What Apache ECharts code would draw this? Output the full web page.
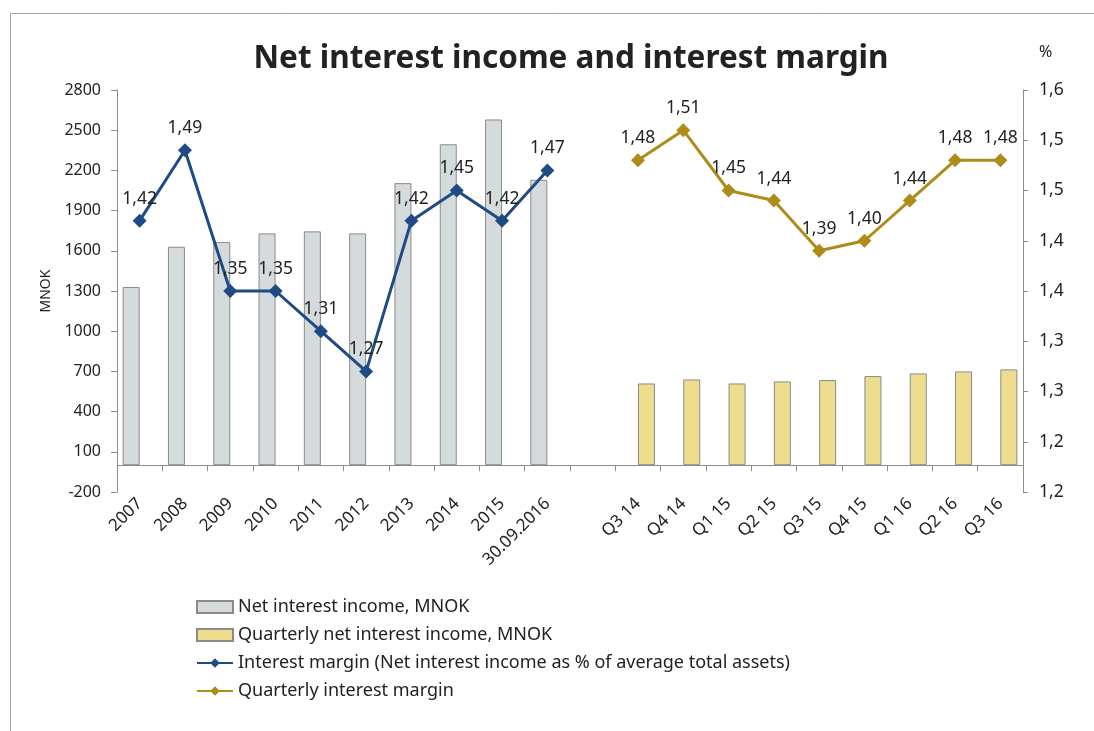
<!DOCTYPE html>
<html>
<head>
<meta charset="utf-8">
<title>Net interest income and interest margin</title>
<script src="https://cdn.jsdelivr.net/npm/echarts@6/dist/echarts.min.js"></script>
<style>
  html, body { margin: 0; padding: 0; background: #ffffff; }
  #chart { width: 1094px; height: 731px; }
</style>
</head>
<body>
<div id="chart"></div>
<script>
// Annual figures, an empty spacer slot, then the quarterly figures
const categories = ['2007', '2008', '2009', '2010', '2011', '2012', '2013', '2014', '2015', '30.09.2016',
  '', 'Q3 14', 'Q4 14', 'Q1 15', 'Q2 15', 'Q3 15', 'Q4 15', 'Q1 16', 'Q2 16', 'Q3 16'];

// Net interest income per year, MNOK
const annualIncome = [1330, 1630, 1665, 1730, 1745, 1730, 2105, 2395, 2580, 2130,
  null, null, null, null, null, null, null, null, null, null];

// Net interest income per quarter, MNOK
const quarterlyIncome = [null, null, null, null, null, null, null, null, null, null,
  null, 610, 640, 610, 625, 635, 665, 685, 700, 715];

// Interest margin, % of average total assets
const annualMargin = [1.42, 1.49, 1.35, 1.35, 1.31, 1.27, 1.42, 1.45, 1.42, 1.47,
  null, null, null, null, null, null, null, null, null, null];

// Quarterly interest margin, %
const quarterlyMargin = [null, null, null, null, null, null, null, null, null, null,
  null, 1.48, 1.51, 1.45, 1.44, 1.39, 1.40, 1.44, 1.48, 1.48];

const FONT = '"Noto Sans", "DejaVu Sans", sans-serif';
const TEXT = '#222222';
const AXIS = '#8c8c8c';

// Norwegian decimal comma, half-up rounding
const comma = (v, d) => (Math.round(v * Math.pow(10, d) + 1e-6) / Math.pow(10, d)).toFixed(d).replace('.', ',');

const chart = echarts.init(document.getElementById('chart'), null, { renderer: 'canvas' });

const marginLabel = {
  show: true,
  position: 'top',
  distance: 6,
  color: TEXT,
  fontFamily: FONT,
  fontSize: 17.5,
  formatter: p => comma(p.value, 2)
};

chart.setOption({
  backgroundColor: '#ffffff',
  animation: false,
  textStyle: { fontFamily: FONT, color: TEXT },
  title: {
    text: 'Net interest income and interest margin',
    left: 566,
    top: 38,
    textAlign: 'center',
    textStyle: { fontFamily: FONT, fontSize: 31.5, fontWeight: 'bold', color: TEXT }
  },
  graphic: [{
    type: 'polyline',
    silent: true,
    shape: { points: [[10.5, 740], [10.5, 13.5], [1100, 13.5]] },
    style: { stroke: '#a6a6a6', lineWidth: 1, fill: null }
  }],
  legend: {
    orient: 'vertical',
    left: 191,
    top: 593,
    itemWidth: 36,
    itemHeight: 12,
    itemGap: 10,
    textStyle: { fontFamily: FONT, fontSize: 18, color: TEXT, lineHeight: 18 },
    data: [
      { name: 'Net interest income, MNOK', icon: 'rect' },
      { name: 'Quarterly net interest income, MNOK', icon: 'rect' },
      { name: 'Interest margin (Net interest income as % of average total assets)' },
      { name: 'Quarterly interest margin' }
    ]
  },
  grid: { left: 117, right: 71, top: 90, bottom: 239, containLabel: false },
  xAxis: {
    type: 'category',
    data: categories,
    boundaryGap: true,
    axisLine: { onZero: true, lineStyle: { color: AXIS, width: 1 } },
    axisTick: { show: true, interval: 0, length: 6, lineStyle: { color: AXIS } },
    axisLabel: { interval: 0, rotate: 45, margin: 9, fontFamily: FONT, fontSize: 17, color: TEXT }
  },
  yAxis: [{
    type: 'value',
    min: -200,
    max: 2800,
    interval: 300,
    name: 'MNOK',
    nameLocation: 'middle',
    nameRotate: 90,
    nameGap: 58,
    nameTextStyle: { fontFamily: FONT, fontSize: 14, color: TEXT },
    splitLine: { show: false },
    axisLine: { show: true, lineStyle: { color: AXIS } },
    axisTick: { show: true, length: 6, lineStyle: { color: AXIS } },
    axisLabel: { margin: 16, fontFamily: FONT, fontSize: 16, color: TEXT, formatter: v => String(Math.round(v)) }
  }, {
    type: 'value',
    min: 1.15,
    max: 1.55,
    interval: 0.05,
    position: 'right',
    name: '%',
    nameLocation: 'end',
    nameGap: 30,
    nameTextStyle: { fontFamily: FONT, fontSize: 16, color: TEXT, align: 'left', padding: [0, 0, 0, 16] },
    splitLine: { show: false },
    axisLine: { show: true, lineStyle: { color: AXIS } },
    axisTick: { show: true, length: 5, lineStyle: { color: AXIS } },
    axisLabel: { margin: 16, fontFamily: FONT, fontSize: 17.5, color: TEXT, formatter: v => comma(v, 1) }
  }],
  series: [{
    name: 'Net interest income, MNOK',
    type: 'bar',
    data: annualIncome,
    barWidth: 17,
    barGap: '0%',
    itemStyle: { color: '#d5dadd', borderColor: '#8a8a8a', borderWidth: 1 }
  }, {
    name: 'Quarterly net interest income, MNOK',
    type: 'bar',
    data: quarterlyIncome,
    barWidth: 17,
    barGap: '0%',
    itemStyle: { color: '#efdd8f', borderColor: '#8a8a8a', borderWidth: 1 }
  }, {
    name: 'Interest margin (Net interest income as % of average total assets)',
    type: 'line',
    yAxisIndex: 1,
    data: annualMargin,
    connectNulls: false,
    symbol: 'diamond',
    symbolSize: 14,
    lineStyle: { color: '#1f4b85', width: 3 },
    itemStyle: { color: '#1f4b85' },
    label: marginLabel,
    z: 5
  }, {
    name: 'Quarterly interest margin',
    type: 'line',
    yAxisIndex: 1,
    data: quarterlyMargin,
    connectNulls: false,
    symbol: 'diamond',
    symbolSize: 14,
    lineStyle: { color: '#ad8c1a', width: 3 },
    itemStyle: { color: '#ad8c1a' },
    label: marginLabel,
    z: 5
  }]
});
</script>
</body>
</html>
